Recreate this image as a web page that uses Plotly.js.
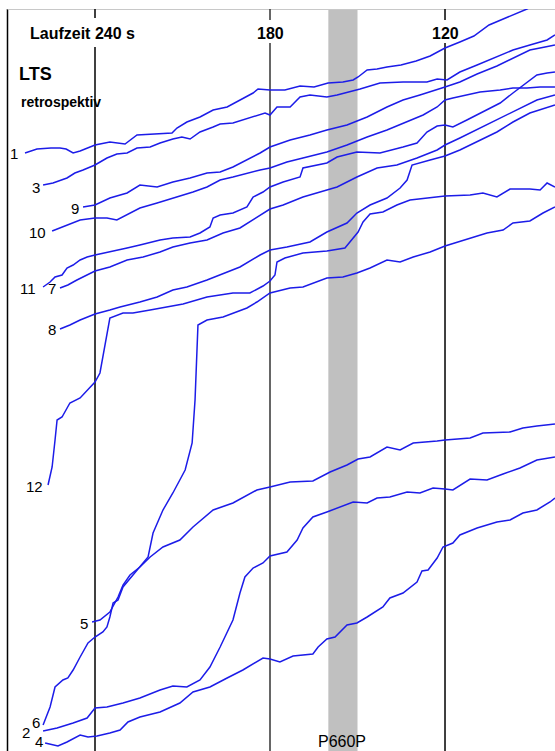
<!DOCTYPE html>
<html>
<head>
<meta charset="utf-8">
<script src="https://cdn.plot.ly/plotly-3.0.1.min.js"></script>
<style>
  html, body { margin: 0; padding: 0; background: #fff; }
  #chart { width: 555px; height: 751px; }
</style>
</head>
<body>
<div id="chart"></div>
<script>
// Laufzeit (s) on x (counting down to the right); trace position (chart units, downward) on y
const t1 = [264.0,259.9,255.1,252.0,249.9,247.5,245.1,240,234.9,229.7,225.6,220.1,215.0,213.6,211.9,208.5,204.0,199.5,194.7,190.3,185.8,184.1,180,174.9,169.7,164.9,160.1,155.0,151.5,149.8,146.7,143.3,139.9,135.1,129.9,125.1,120,114.9,110.1,104.9,100.1,95.0,91.9,87.4];
const y1 = [153,149,148,148,149,153,151,145,142,144,135,134,133,133,128,122,117,110,107,100,93,89,90,90,86,87,83,82,80,77,70,69,67,65,61,56,48,42,36,25,19,13,9,2];

const t3 = [257.8,254.4,249.6,246.9,244.1,240,235.9,232.5,229.0,225.6,221.1,217.7,213.3,210.2,207.4,204.0,199.5,197.1,192.7,189.3,184.5,181.7,180,177.6,173.1,169.7,166.3,160.5,157.0,152.6,149.1,142.3,134.4,126.2,122.7,119.3,114.9,109.0,102.2,96.7,90.9,85.0,82.3];
const y3 = [185,183,178,173,170,165,158,154,153,148,147,143,139,137,139,132,127,124,123,120,115,113,115,107,107,97,95,97,95,92,89,83,82,82,79,80,72,65,57,50,45,40,35];

const t9 = [244.1,240,234.9,229.0,224.6,218.7,213.3,207.4,201.6,197.1,192.7,187.9,183.4,180,173.1,166.3,160.5,153.6,146.7,139.9,134.4,128.6,122.7,120,114.9,109.0,102.2,96.7,90.9,85.7,82.3];
const y9 = [207,205,198,193,185,187,182,178,173,172,167,160,153,147,140,135,130,125,117,107,100,95,90,87,82,74,66,58,50,47,45];

const t10 = [254.7,249.6,245.1,240,235.9,232.5,229.0,224.6,218.7,211.9,206.4,201.6,197.1,192.7,187.9,183.4,180,174.2,168.7,160.5,153.6,146.7,139.9,134.4,127.5,122.7,120,117.3,112.5,108.0,101.1,96.7,91.9,87.4,82.3];
const y10 = [231,225,220,218,218,220,215,208,203,197,192,187,180,177,173,170,168,162,158,152,145,137,130,123,115,107,100,98,95,92,90,88,88,87,87];

const t11 = [257.8,255.4,253.7,251.3,249.6,247.5,245.1,242.7,240,234.9,229.0,224.6,217.7,213.3,207.4,204.0,200.6,199.5,197.1,192.7,187.9,185.8,182.4,180,175.5,169.7,168.7,160.5,157.0,150.2,142.3,134.4,129.6,126.2,122.7,120,117.3,112.5,108.0,101.1,96.7,91.9,88.5,85.0,82.3];
const y11 = [287,282,277,275,268,265,260,257,255,252,248,245,240,238,237,233,227,218,215,213,207,197,192,187,182,177,168,163,157,152,153,147,143,132,126,125,127,120,113,103,93,82,75,73,72];

const t7 = [252.0,249.3,246.2,242.7,240,234.9,229.0,223.5,217.7,213.3,207.4,201.6,196.1,190.3,185.8,180,175.5,168.7,160.5,157.0,150.2,143.3,136.5,129.6,122.7,120,114.9,108.0,101.1,94.3,88.5,82.3];
const y7 = [288,285,280,275,271,267,260,257,252,247,243,240,233,228,220,209,205,197,190,187,177,168,165,158,150,145,138,128,118,108,100,95];

const t8 = [252.0,248.6,245.1,240,234.9,231.4,224.6,218.7,213.3,208.5,201.6,194.7,190.3,183.4,180,174.2,166.3,160.5,153.6,150.2,145.7,139.9,135.4,133.0,131.3,125.1,120,114.9,109.0,102.2,96.7,90.9,82.3];
const y8 = [329,325,320,314,310,307,302,297,290,287,280,272,267,255,250,247,242,232,223,213,205,198,188,180,165,160,156,150,142,132,122,113,105];

const t12 = [256.1,254.7,253.7,253.0,251.3,248.6,245.1,242.4,240,238.3,237.3,235.9,234.9,230.4,227.0,221.1,215.3,209.8,201.6,192.7,186.9,182.4,180,178.3,177.6,174.9,168.7,160.5,154.3,152.6,149.8,148.1,145.7,141.3,136.5,132.0,125.1,120,111.4,107.0,102.2,97.7,90.9,87.4,85.0,82.3];
const y12 = [485,467,440,420,417,403,398,390,382,373,357,333,318,313,313,310,307,304,297,293,293,286,281,275,262,258,253,251,248,242,232,222,214,212,205,200,198,196,195,193,197,189,189,190,183,187];

const t2 = [257.8,255.4,253.7,251.0,249.3,247.5,245.1,242.4,240,237.3,235.9,234.9,233.8,232.1,230.4,227.0,224.6,221.8,220.1,216.7,213.3,209.1,206.7,205.7,204.7,201.6,196.1,192.7,187.9,184.5,180,173.1,168.7,160.5,155.0,150.2,145.7,139.9,135.4,130.9,125.1,120,111.4,105.6,100.1,96.7,90.9,86.4,82.3];
const y2 = [725,707,687,680,678,670,657,643,637,632,627,617,603,600,587,575,567,557,533,510,493,470,443,400,325,320,317,313,308,302,293,288,287,278,277,273,268,260,262,257,252,246,238,233,230,223,221,213,207];

const t5 = [241.0,238.3,234.9,233.1,232.1,230.4,228.0,224.6,221.1,216.7,210.9,206.4,199.5,192.7,184.5,180,173.1,165.3,159.4,153.6,149.8,145.7,139.9,135.4,130.9,122.7,120,111.4,107.0,97.7,93.3,88.5,82.3];
const y5 = [622,620,612,602,597,585,575,567,557,547,540,527,510,503,490,487,482,481,472,465,459,457,447,450,443,441,440,438,433,432,428,426,424];

const t6 = [257.8,253.0,247.5,242.7,240,235.9,230.4,224.6,217.7,213.3,208.5,204.0,200.6,197.1,192.7,190.3,188.6,185.8,182.4,180,174.2,170.7,168.7,165.3,160.5,156.0,151.5,146.7,143.3,138.9,133.0,128.6,124.1,120,117.3,111.4,105.6,100.1,94.3,88.5,82.3];
const y6 = [731,728,723,718,708,707,703,698,690,686,687,680,667,647,620,593,577,568,563,556,552,540,528,517,512,507,502,503,498,497,492,493,488,489,490,479,480,474,468,460,457];

const t4 = [257.1,252.7,249.6,245.1,242.4,239.3,234.9,231.4,228.7,224.6,217.7,210.9,206.4,200.6,194.7,189.3,182.4,180,176.6,172.1,165.3,163.5,160.5,157.7,153.6,150.2,146.7,141.3,138.9,134.4,129.6,127.9,125.8,122.7,120.7,117.3,114.9,109.0,102.2,97.7,93.3,88.5,84.0,82.3];
const y4 = [743,746,742,735,737,736,733,730,722,717,712,703,692,687,678,670,658,659,662,656,654,647,639,637,625,623,617,607,598,593,582,571,570,558,547,543,535,528,522,520,513,510,502,498];

const curveNames = ["1","3","9","10","11","7","8","12","2","5","6","4"];
const curveT = [t1,t3,t9,t10,t11,t7,t8,t12,t2,t5,t6,t4];
const curveY = [y1,y3,y9,y10,y11,y7,y8,y12,y2,y5,y6,y4];

// curve number labels: [text, time, position]
const labelText = ["1","3","9","10","11","7","8","12","5","2","6","4"];
const labelT = [265.7,258.2,244.8,256.1,259.5,252.7,252.7,257.1,241.7,261.6,258.2,257.1];
const labelY = [153,187,208,232,288,288,329,486,623,732,722,741];

const timeMarks = [240,180,120];
const markLabels = ["Laufzeit 240 s","180","120"];
const bandStart = 160, bandEnd = 150;

const blue = "#1c1ce8";
const traces = curveNames.map((n,i)=>({
  type:"scatter", mode:"lines", name:n,
  x: curveT[i], y: curveY[i],
  line:{color:blue, width:1.5},
  hoverinfo:"skip", showlegend:false
}));

const shapes = [
  {type:"rect", xref:"x", yref:"y", x0:bandStart, x1:bandEnd, y0:9, y1:751, fillcolor:"#c0c0c0", line:{width:0}, layer:"below"},
  {type:"line", xref:"x", yref:"y", x0:270, x1:270, y0:9, y1:751, line:{color:"#000", width:1.5}, layer:"below"},
  {type:"line", xref:"x", yref:"y", x0:270, x1:82.3, y0:9.5, y1:9.5, line:{color:"#c8c8c8", width:1}, layer:"below"},
  {type:"line", xref:"x", yref:"y", x0:240, x1:240, y0:9, y1:18, line:{color:"#000", width:1.5}, layer:"below"},
  {type:"line", xref:"x", yref:"y", x0:240, x1:240, y0:47, y1:751, line:{color:"#000", width:1.5}, layer:"below"},
  {type:"line", xref:"x", yref:"y", x0:180, x1:180, y0:9, y1:20, line:{color:"#333", width:1.5}, layer:"below"},
  {type:"line", xref:"x", yref:"y", x0:180, x1:180, y0:43, y1:751, line:{color:"#333", width:1.5}, layer:"below"},
  {type:"line", xref:"x", yref:"y", x0:120, x1:120, y0:9, y1:20, line:{color:"#000", width:1.5}, layer:"below"},
  {type:"line", xref:"x", yref:"y", x0:120, x1:120, y0:43, y1:751, line:{color:"#000", width:1.5}, layer:"below"}
];

const font = "Liberation Sans, Arial, sans-serif";
const annotations = [];
annotations.push({x:244.3, y:33, xref:"x", yref:"y", text:markLabels[0], showarrow:false, font:{family:font, size:16, color:"#000", weight:"bold"}, xanchor:"center", yanchor:"middle"});
annotations.push({x:timeMarks[1], y:33, xref:"x", yref:"y", text:markLabels[1], showarrow:false, font:{family:font, size:16, color:"#000", weight:"bold"}, xanchor:"center", yanchor:"middle"});
annotations.push({x:timeMarks[2], y:33, xref:"x", yref:"y", text:markLabels[2], showarrow:false, font:{family:font, size:16, color:"#000", weight:"bold"}, xanchor:"center", yanchor:"middle"});
annotations.push({x:266.8, y:74, xref:"x", yref:"y", text:"LTS", showarrow:false, font:{family:font, size:18, color:"#000", weight:"bold"}, xanchor:"left", yanchor:"middle"});
annotations.push({x:266.1, y:102, xref:"x", yref:"y", text:"retrospektiv", showarrow:false, font:{family:font, size:14, color:"#000", weight:"bold"}, xanchor:"left", yanchor:"middle"});
annotations.push({x:155.2, y:741, xref:"x", yref:"y", text:"P660P", showarrow:false, font:{family:font, size:16, color:"#000"}, xanchor:"center", yanchor:"middle"});
labelText.forEach((s,i)=>annotations.push({x:labelT[i], y:labelY[i], xref:"x", yref:"y", text:s, showarrow:false, font:{family:font, size:15, color:"#000"}, xanchor:"right", yanchor:"middle"}));

const layout = {
  width:555, height:751,
  margin:{l:0, r:0, t:9, b:0, pad:0},
  paper_bgcolor:"#fff", plot_bgcolor:"#fff",
  xaxis:{range:[272.57, 82.29], visible:false, fixedrange:true},
  yaxis:{range:[751, 9], visible:false, fixedrange:true},
  shapes, annotations, showlegend:false
};

Plotly.newPlot("chart", traces, layout, {staticPlot:true, displayModeBar:false});
</script>
</body>
</html>
